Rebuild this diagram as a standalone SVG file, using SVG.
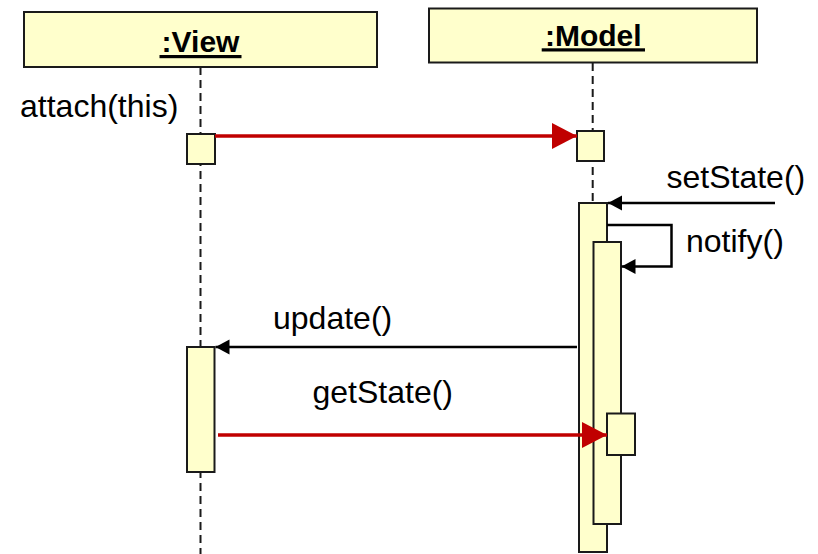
<svg xmlns="http://www.w3.org/2000/svg" width="818" height="554" viewBox="0 0 818 554">
<style>
.obj{fill:#FFFFCC;stroke:#1a1a1a;stroke-width:2}
.act{fill:#FFFFCC;stroke:#1a1a1a;stroke-width:2}
.life{stroke:#1a1a1a;stroke-width:2;stroke-dasharray:8,5;fill:none}
.title{font-family:"Liberation Sans",Arial,sans-serif;font-weight:bold;font-size:30px;fill:#000;text-anchor:middle}
.lbl{font-family:"Liberation Sans",Arial,sans-serif;font-size:32px;fill:#000}
.red{stroke:#C00000;stroke-width:3.5;fill:none}
.blk{stroke:#000;stroke-width:2.5;fill:none}
</style>
<defs>
<marker id="redHead" markerUnits="userSpaceOnUse" markerWidth="26" markerHeight="27" refX="25" refY="13" orient="auto">
<path d="M0,0 L25,13 L0,26 z" fill="#C00000"/>
</marker>
<marker id="blkHead" markerUnits="userSpaceOnUse" markerWidth="15" markerHeight="16" refX="14" refY="8" orient="auto">
<path d="M0,0.5 L14,8 L0,15.5 z" fill="#000"/>
</marker>
</defs>
<g id="view">
<rect class="obj" x="24" y="12" width="353" height="55"/>
<text class="title" x="200.5" y="51.5">:View</text>
<rect x="159.5" y="55" width="82" height="3.2" fill="#000"/>
<line class="life" x1="200.5" y1="67" x2="200.5" y2="554"/>
<rect class="act" x="187" y="134" width="28" height="30"/>
<rect class="act" x="187" y="347" width="27.5" height="125"/>
</g>
<g id="model">
<rect class="obj" x="429" y="8.5" width="328" height="54"/>
<text class="title" x="593.3" y="46">:Model</text>
<rect x="541.7" y="48.3" width="103.3" height="3.2" fill="#000"/>
<line class="life" x1="592.7" y1="63" x2="592.7" y2="203"/>
<rect class="act" x="577" y="131" width="27" height="30"/>
<rect class="act" x="579" y="203" width="28" height="349"/>
<rect class="act" x="593.5" y="242" width="27.5" height="282"/>
<rect class="act" x="607" y="413.5" width="28" height="41.5"/>
</g>
<g id="connectors">
<line class="red" x1="215" y1="136" x2="577" y2="136" marker-end="url(#redHead)"/>
<line class="blk" x1="775" y1="203" x2="608" y2="203" marker-end="url(#blkHead)"/>
<polyline class="blk" points="607,225 671.5,225 671.5,266.5 621.5,266.5" marker-end="url(#blkHead)"/>
<line class="blk" x1="577" y1="347" x2="215.5" y2="347" marker-end="url(#blkHead)"/>
<line class="red" x1="218" y1="435" x2="607" y2="435" marker-end="url(#redHead)"/>
</g>
<g id="labels">
<text class="lbl" x="20" y="117">attach(this)</text>
<text class="lbl" x="666.5" y="188">setState()</text>
<text class="lbl" x="686" y="252">notify()</text>
<text class="lbl" x="273" y="329">update()</text>
<text class="lbl" x="312.5" y="402.5">getState()</text>
</g>
</svg>
